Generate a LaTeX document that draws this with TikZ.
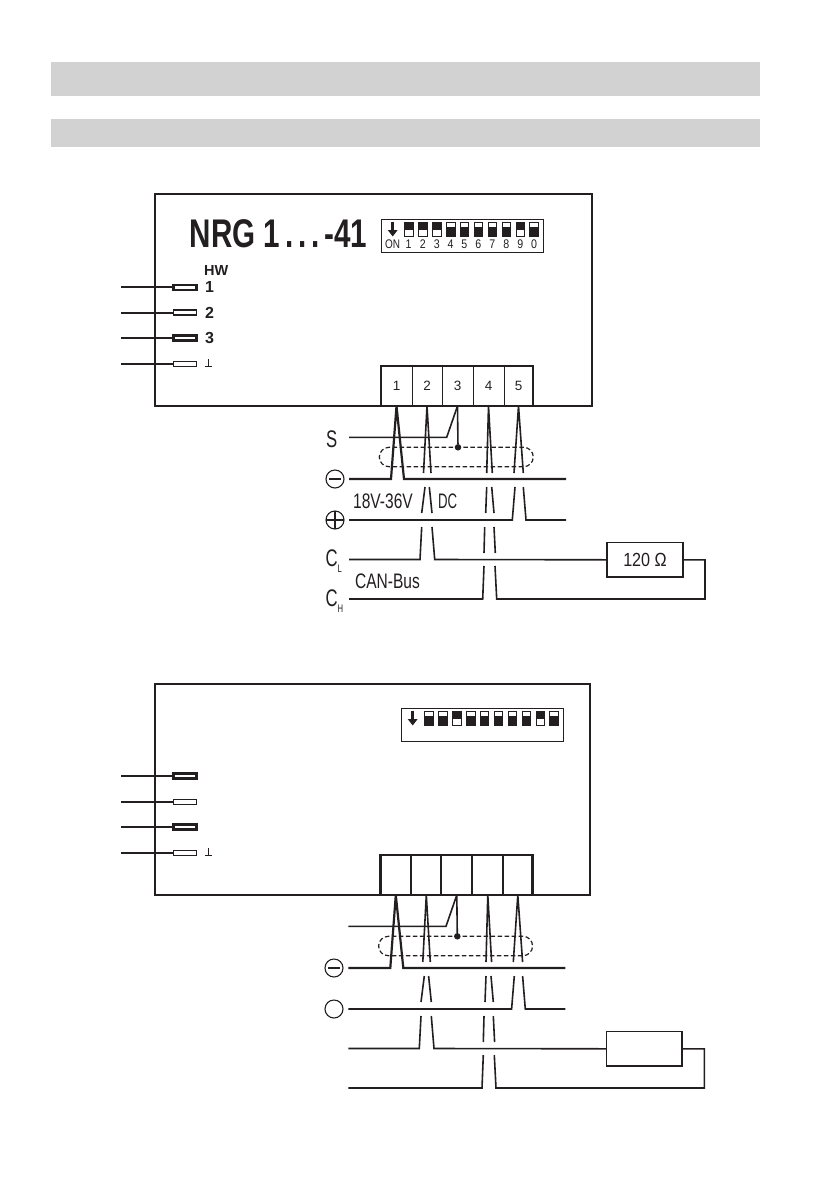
\documentclass[tikz,border=0pt]{standalone}
\usepackage{fontspec}
\setmainfont{Liberation Sans}
\usetikzlibrary{arrows.meta,shapes.misc}
\definecolor{barcolor}{HTML}{D2D2D2}
\definecolor{inkcolor}{HTML}{231F20}
\tikzset{
  bar/.style={fill=barcolor,draw=none},
  panel/.style={draw=inkcolor,line width=2.6pt},
  wire/.style={draw=inkcolor,line width=1.6pt},
  fatwire/.style={draw=inkcolor,line width=2.2pt},
  termbox/.style={draw=inkcolor,line width=1pt,minimum height=40pt,outer sep=0pt,inner sep=0pt},
  led/.style={draw=inkcolor,fill=white,minimum width=23pt,minimum height=5pt,inner sep=0pt,outer sep=0pt},
  sw/.style={draw=inkcolor,line width=.8pt,minimum width=8.6pt,minimum height=14pt,inner sep=0pt,outer sep=0pt},
  shieldbox/.style={draw=inkcolor,line width=1.2pt,dash pattern=on 4.5pt off 2.5pt,rounded rectangle,
    minimum width=154pt,minimum height=19.4pt,inner sep=0pt,outer sep=0pt},
  dot/.style={circle,fill=inkcolor,minimum size=6.5pt,inner sep=0pt,outer sep=0pt},
  sign/.style={circle,draw=inkcolor,line width=1.1pt,minimum size=18pt,inner sep=0pt,outer sep=0pt},
  lbl/.style={inner sep=0pt,anchor=base west,xscale=.74,text=inkcolor,font=\fontsize{21}{21}\selectfont},
  biglbl/.style={lbl,xscale=.94,font=\fontsize{24}{24}\selectfont},
  ledlbl/.style={inner sep=0pt,anchor=west,text=inkcolor,font=\bfseries\fontsize{16}{16}\selectfont},
  termlbl/.style={inner sep=0pt,text=inkcolor,font=\fontsize{13.5}{14}\selectfont},
  diplbl/.style={inner sep=0pt,xscale=.85,text=inkcolor,font=\fontsize{12.5}{13}\selectfont},
}
% one DIP bank: list of number/x/top/bottom of the black part
\newcommand{\dipbank}[1]{
  \node[draw=inkcolor,line width=1pt,minimum width=162.5pt,minimum height=33pt,inner sep=0pt,outer sep=0pt] (dipframe) at (462.7,235.8) {};
  \coordinate (dipon) at (392.7,244);
  \draw[inkcolor,line width=2.8pt,-{Triangle[width=9.5pt,length=6.5pt]}] (392.7,221.5) -- (392.7,236.5);
  \foreach \n/\xs/\a/\b in {#1} {
    \node[sw] (sw\n) at (\xs,229) {};
    \fill[inkcolor] (\xs-4.3,\a) rectangle (\xs+4.3,\b);
  }
}
% four LEDs on the left edge
\newcommand{\ledrow}[1]{
  \foreach \n/\ys/\w in {#1} {
    \node[led,line width=\w pt] (led\n) at (185,\ys) {};
    \draw[fatwire] (led\n.west) -- ++(-53,0);
  }
}
% terminal block with all wires
\newcommand{\wiring}{
  \foreach \n/\xs/\w in {1/396.5/31,2/427/30,3/457.5/31,4/488.5/31,5/518.5/29}
    \node[termbox,minimum width=\w pt] (t\n) at (\xs,386) {};
  \draw[inkcolor,line width=2.6pt] (t1.south west) |- (t5.north east) -- (t5.south east);
  \coordinate (sL) at (349,437.3);
  \coordinate (minusL) at (349,479);
  \coordinate (minusR) at (566,479);
  \coordinate (plusL) at (349,520);
  \coordinate (plusR) at (566,520);
  \coordinate (clL) at (349,559.5);
  \coordinate (chL) at (349,599);
  \node[draw=inkcolor,line width=1.7pt,minimum width=75.6pt,minimum height=34.4pt,inner sep=0pt,outer sep=0pt] (res) at (645,559.8) {};
  \node[shieldbox] (shield) at (456.3,457) {};
  \node[dot] (shieldpt) at (458,447.3) {};
  \draw[wire] (t3.south) -- (shieldpt);
  \draw[wire] (t3.south) -- (446.7,437.3) -- (sL);
  \draw[fatwire] (minusL) -- (391,479) -- (t1.south) -- (404,479) -- (minusR);
  % terminal 2
  \draw[wire] (423.5,473) -- (t2.south) -- (431,473);
  \draw[wire] (425,487) -- (421.7,513);
  \draw[wire] (429.3,487) -- (432,513);
  \draw[wire] (clL) -- (420,559.5) -- (421.7,527);
  \draw[wire] (432,527) -- (434.7,559.5) -- (res.west);
  % terminal 4
  \draw[wire] (486.7,473) -- (t4.south) -- (492.3,473);
  \draw[wire] (486.7,487) -- (485.7,513);
  \draw[wire] (491.7,487) -- (494,513);
  \draw[wire] (484.7,527) -- (484,553);
  \draw[wire] (494,527) -- (495.3,553);
  \draw[wire] (chL) -- (482.7,599) -- (484,566);
  \draw[wire] (495,566) -- (496.7,599) -- (705,599) |- (res.east);
  % terminal 5
  \draw[wire] (514,473) -- (t5.south) -- (523.3,473);
  \draw[wire] (plusL) -- (512.3,520) -- (515,487);
  \draw[wire] (523.3,487) -- (526,520) -- (plusR);
}
\begin{document}
\begin{tikzpicture}[x=1pt,y=-1pt]
\useasboundingbox (0,0) rectangle (840,1192);
\fill[bar] (51,62) rectangle (760,96);
\fill[bar] (51,119) rectangle (760,147);

% upper panel
\draw[panel] (155,194) rectangle (592,406);
\node[inner sep=0pt,anchor=base west,xscale=.74,text=inkcolor,font=\bfseries\fontsize{40}{40}\selectfont] (title) at (189.5,247.5) {NRG 1\,.\,.\,.\,-41};
\dipbank{1/408.7/221.7/229.5,2/422.7/221.7/229.5,3/436.7/221.7/229.5,4/450.7/226.5/236,5/464.3/226.5/236,6/478.3/226.5/236,7/492.3/226.5/236,8/506.3/226.5/236,9/520.3/221.7/229.5,10/534/226.5/236}
\node[diplbl,xscale=.94] (onlbl) at (dipon) {ON};
\foreach \n/\d in {1/1,2/2,3/3,4/4,5/5,6/6,7/7,8/8,9/9,10/0}
  \node[diplbl] (dip\n) at (sw\n |- dipon) {\d};
\node[inner sep=0pt,anchor=west,text=inkcolor,font=\bfseries\fontsize{14.5}{15}\selectfont] (hw) at (204,271) {HW};
\ledrow{1/287.3/2.2,2/312.7/1.5,3/338/2.2,4/364/1.5}
\node[ledlbl] (l1) at (205,287.3) {1};
\node[ledlbl] (l2) at (205,312.7) {2};
\node[ledlbl] (l3) at (205,338) {3};
\draw[inkcolor,line width=.7pt] (205,366) -- (212,366) (208.5,366) -- (208.5,359);
\wiring
\node[inner sep=0pt,xscale=.85,text=inkcolor,font=\fontsize{19}{19}\selectfont] (reslbl) at (res) {120 Ω};
\foreach \n in {1,...,5}
  \node[termlbl] (tl\n) at (t\n) {\n};
\node[biglbl] (slbl) at (326,447) {S};
\node[sign] (minus) at (335,479) {};
\draw[inkcolor,line width=1.1pt] (minus.west) ++(3,0) -- ++(12,0);
\node[sign] (plus) at (335,520) {};
\draw[inkcolor,line width=1.1pt] (plus.west) -- (plus.east) (plus.north) -- (plus.south);
\node[lbl] (vlbl) at (353,508) {18V-36V};
\node[lbl,xscale=.85] (dclbl) at (438,508) {DC};
\node[biglbl] (cl) at (325.5,566) {C\raisebox{-6pt}{\fontsize{11}{11}\selectfont L}};
\node[lbl] (canlbl) at (355,588) {CAN-Bus};
\node[biglbl] (ch) at (325.5,606.7) {C\raisebox{-6pt}{\fontsize{11}{11}\selectfont H}};

% lower panel
\draw[panel] (155,684) rectangle (590,895);
\begin{scope}[shift={(20,489)}]
\dipbank{1/408.7/226.5/236,2/422.7/226.5/236,3/436.7/221.7/229.5,4/450.7/226.5/236,5/464.3/226.5/236,6/478.3/226.5/236,7/492.3/226.5/236,8/506.3/226.5/236,9/520.3/221.7/229.5,10/534/226.5/236}
\end{scope}
\ledrow{5/776/2.2,6/802/1.5,7/827/2.2,8/853/1.5}
\draw[inkcolor,line width=.7pt] (205,855) -- (212,855) (208.5,855) -- (208.5,848);
\begin{scope}[shift={(-.7,489)},termbox/.append style={line width=1.8pt}]
\wiring
\end{scope}
\node[sign] (minus2) at (334,968) {};
\draw[inkcolor,line width=1.1pt] (minus2.west) ++(3,0) -- ++(12,0);
\node[sign] (plus2) at (334,1009) {};
\end{tikzpicture}
\end{document}
